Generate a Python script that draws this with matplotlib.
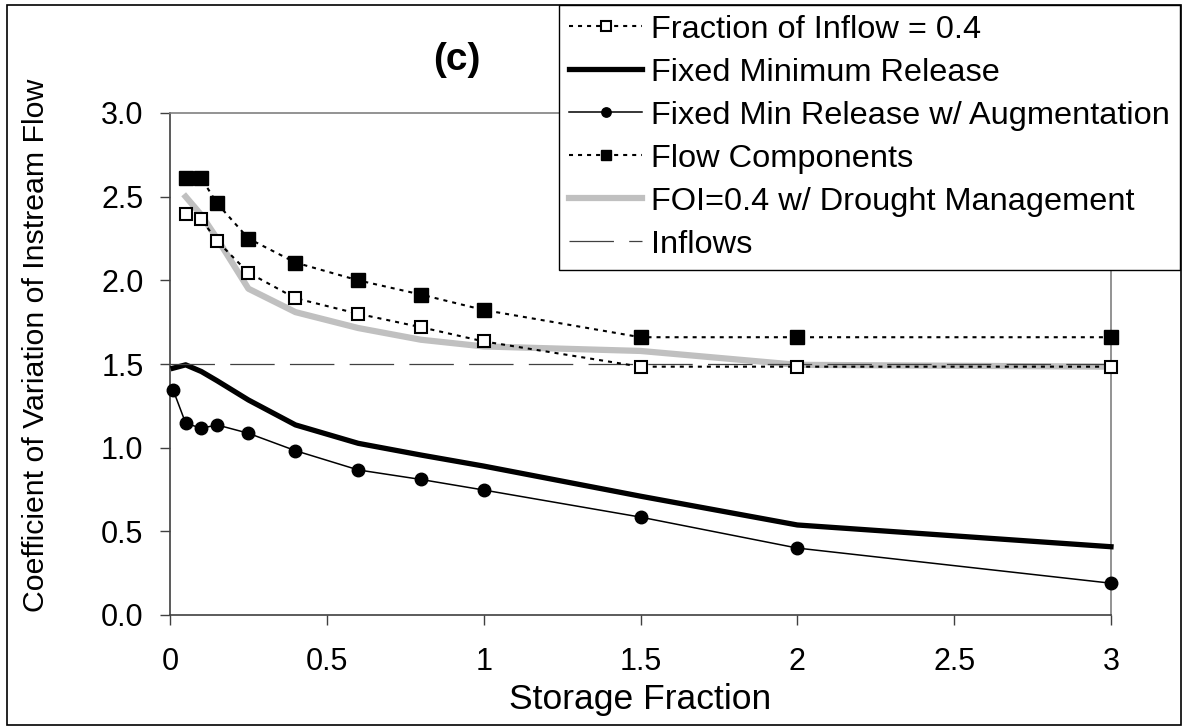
import matplotlib
matplotlib.use("Agg")
import matplotlib.pyplot as plt
from matplotlib.patches import Rectangle

plt.rcParams['font.family'] = ['Liberation Sans', 'DejaVu Sans']
plt.rcParams['lines.scale_dashes'] = False

# storage fractions
storage = [0.05, 0.1, 0.15, 0.25, 0.4, 0.6, 0.8, 1.0, 1.5, 2.0, 3.0]
storage_aug = [0.01, 0.05, 0.1, 0.15, 0.25, 0.4, 0.6, 0.8, 1.0, 1.5, 2.0, 3.0]

# coefficient of variation of instream flow
foi_04 = [2.395, 2.365, 2.235, 2.046, 1.893, 1.80, 1.72, 1.635, 1.484, 1.484, 1.484]
flow_comp = [2.614, 2.61, 2.46, 2.25, 2.106, 2.0, 1.915, 1.823, 1.66, 1.66, 1.66]
foi_drought = [2.50, 2.39, 2.25, 1.95, 1.81, 1.715, 1.645, 1.605, 1.578, 1.495, 1.484]
fixed_min = [1.475, 1.495, 1.455, 1.40, 1.285, 1.136, 1.026, 0.956, 0.89, 0.71, 0.538, 0.408]
fixed_aug = [1.345, 1.146, 1.116, 1.136, 1.086, 0.982, 0.867, 0.81, 0.747, 0.585, 0.40, 0.19]
inflow_x = [0.0, 3.0]
inflow_cv = [1.5, 1.5]

xticks = [0, 0.5, 1, 1.5, 2, 2.5, 3]
yticks = [0.0, 0.5, 1.0, 1.5, 2.0, 2.5, 3.0]

W, H = 1183, 726
fig = plt.figure(figsize=(W / 100, H / 100), dpi=100)
ax = fig.add_axes([170 / W, 1 - 615 / H, (1111 - 170) / W, (615 - 113) / H])

dot = (0, (2.9, 3.6))
ax.plot(storage, foi_04, linestyle=dot, color='black', lw=1.5,
        marker='s', ms=9, mfc='white', mec='black', mew=1.5,
        label='Fraction of Inflow = 0.4', clip_on=False, zorder=4)
ax.plot(storage_aug, fixed_min, color='black', lw=3.8,
        label='Fixed Minimum Release', clip_on=False, zorder=3)
ax.plot(storage_aug, fixed_aug, color='black', lw=1.1,
        marker='o', ms=9, label='Fixed Min Release w/ Augmentation',
        clip_on=False, zorder=4)
ax.plot(storage, flow_comp, linestyle=dot, color='black', lw=1.5,
        marker='s', ms=10, mfc='black', mec='black',
        label='Flow Components', clip_on=False, zorder=4)
ax.plot(storage, foi_drought, color='#c0c0c0', lw=4.5,
        label='FOI=0.4 w/ Drought Management', zorder=2)
ax.plot(inflow_x, inflow_cv, linestyle=(0, (32, 11)), color='#404040', lw=0.9,
        label='Inflows', zorder=3)

ax.set_xlim(0, 3)
ax.set_ylim(0, 3)
ax.set_xticks(xticks)
ax.set_xticklabels([f'{t:g}' for t in xticks])
ax.set_yticks(yticks)
ax.set_yticklabels([f'{t:.1f}' for t in yticks])
ax.tick_params(direction='out', length=7, width=1, labelsize=22, color='#404040')
ax.tick_params(axis='y', pad=12)
ax.tick_params(axis='x', pad=16)
for side in ['left', 'bottom']:
    ax.spines[side].set_color('#404040')
    ax.spines[side].set_linewidth(1.2)
for side in ['top', 'right']:
    ax.spines[side].set_color('#808080')
    ax.spines[side].set_linewidth(1.2)

ax.set_xlabel('Storage Fraction', fontsize=25.5, labelpad=4)
ax.set_ylabel('Coefficient of Variation of Instream Flow', fontsize=21.8)
ax.yaxis.set_label_coords((50 - 170) / 941, (615 - 345) / 502)

fig.text(457 / W, 1 - 60 / H, '(c)', fontsize=28, fontweight='bold',
         ha='center', va='center')

leg = fig.legend(loc='upper right', bbox_to_anchor=(1180 / W, 1 - 5 / H),
                 fontsize=23.4, frameon=True, fancybox=False, framealpha=1,
                 edgecolor='black', handlelength=2.25, handletextpad=0.28,
                 labelspacing=0.4, borderpad=0.3, borderaxespad=0,
                 markerscale=0.75)
leg.get_frame().set_linewidth(1.0)

fig.add_artist(Rectangle((7 / W, 1 / H), (W - 9) / W, (H - 6) / H,
                         transform=fig.transFigure, fill=False,
                         edgecolor='black', lw=1.2, zorder=0))

fig.savefig('out.png', dpi=100)
